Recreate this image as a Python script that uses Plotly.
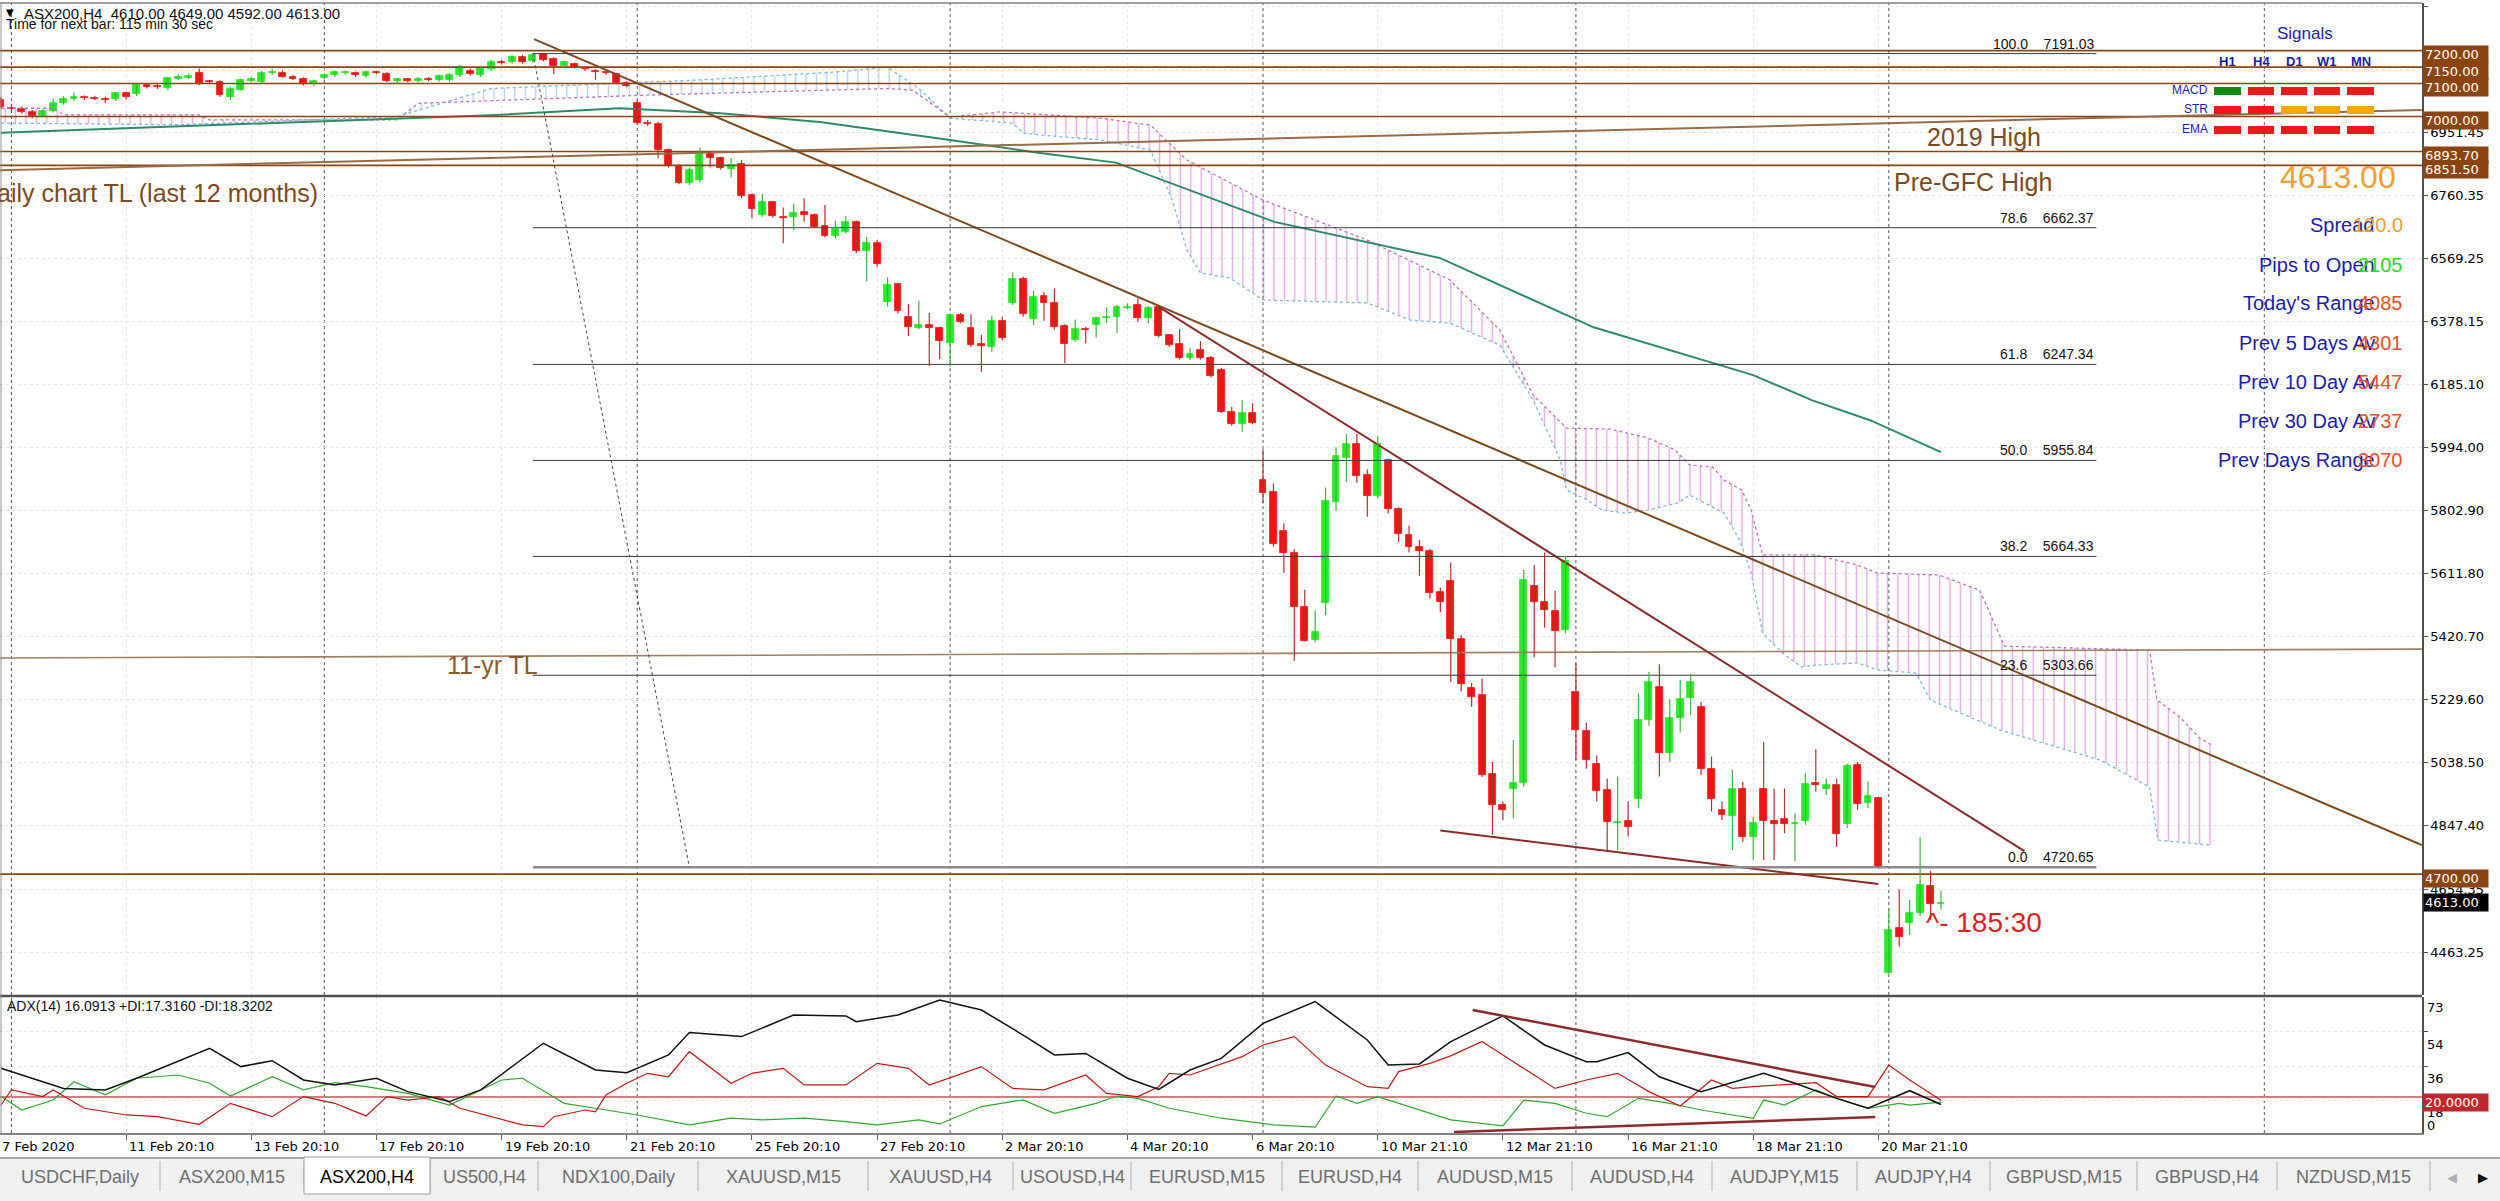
import numpy as np
import plotly.graph_objects as go

# ----------------------------- DATA -----------------------------
OPEN = [7050,7025,7023,7015,7001,7018,7040,7053,7058,7057,
        7054,7052,7070,7068,7095,7092,7086,7115,7117,7131,
        7105,7105,7060,7082,7109,7105,7131,7133,7121,7115,
        7098,7118,7126,7131,7132,7122,7134,7130,7109,7113,
        7109,7115,7111,7111,7126,7139,7126,7143,7167,7166,
        7182,7168,7189,7176,7154,7158,7148,7139,7136,7129,
        7103,7042,6979,6976,6898,6850,6797,6807,6885,6873,
        6842,6856,6762,6701,6739,6694,6694,6709,6701,6668,
        6638,6650,6679,6593,6615,6438,6490,6392,6359,6367,
        6357,6311,6397,6359,6308,6301,6378,6433,6508,6385,
        6454,6435,6364,6321,6354,6367,6388,6392,6419,6427,
        6387,6423,6336,6308,6266,6291,6268,6230,6104,6066,
        6101,5896,5859,5742,5674,5512,5411,5524,5831,5962,
        6005,5911,5848,5957,5807,5729,5694,5682,5555,5591,
        5414,5264,5244,5004,4910,4957,4977,5575,5527,5500,
        5441,5254,5134,5034,4955,4854,4861,4928,5168,5269,
        5067,5173,5236,5208,5018,4895,4877,4957,4812,4958,
        4860,4867,4852,4861,4976,4957,4971,4852,5031,4915,
        4930,4401,4535,4551,4583,4665,4610]
HIGH = [7060,7032,7030,7020,7022,7055,7062,7073,7064,7063,
        7060,7074,7076,7100,7102,7098,7120,7128,7130,7146,
        7110,7110,7090,7115,7120,7138,7145,7140,7126,7119,
        7112,7130,7140,7140,7137,7140,7139,7134,7118,7117,
        7119,7120,7127,7131,7156,7146,7150,7172,7173,7186,
        7187,7191.03,7190,7180,7168,7163,7152,7143,7140,7133,
        7107,7050,6989,6984,6903,6856,6845,6906,6890,6878,
        6873,6868,6766,6765,6744,6724,6734,6752,6706,6731,
        6684,6699,6684,6635,6625,6512,6495,6431,6441,6404,
        6362,6402,6404,6400,6337,6395,6392,6527,6514,6471,
        6467,6478,6369,6384,6362,6392,6421,6428,6433,6448,
        6425,6428,6340,6354,6298,6318,6273,6237,6119,6139,
        6129,5990,5886,5765,5686,5563,5500,5874,5996,6036,
        6036,5928,6030,5962,5814,5758,5714,5687,5570,5646,
        5426,5280,5294,5041,4920,5107,5623,5638,5676,5560,
        5666,5340,5160,5060,4990,4996,4920,5249,5314,5337,
        5230,5289,5309,5223,5057,4920,5016,4980,4874,5100,
        4960,4960,4884,5006,5079,4990,4990,5036,5040,4981,
        4935,4593,4654,4621,4812,4710,4649]
LOW = [7025,7018,7008,6995,6996,7012,7036,7048,7050,7049,
       7040,7048,7052,7062,7085,7084,7080,7110,7113,7095,
       7098,7060,7050,7078,7104,7100,7127,7118,7110,7094,
       7092,7112,7120,7126,7120,7118,7128,7104,7100,7104,
       7103,7108,7106,7106,7120,7124,7120,7138,7158,7160,
       7160,7163,7168,7129,7148,7146,7138,7111,7127,7098,
       7088,6975,6971,6873,6845,6794,6792,6800,6846,6838,
       6815,6752,6691,6696,6693,6615,6655,6681,6661,6633,
       6630,6645,6585,6499,6544,6423,6402,6334,6354,6243,
       6263,6241,6372,6300,6225,6284,6320,6428,6392,6367,
       6380,6353,6251,6316,6311,6329,6374,6342,6414,6377,
       6372,6330,6300,6262,6261,6262,6208,6100,6061,6043,
       6066,5825,5694,5615,5348,5406,5403,5486,5803,5891,
       5888,5785,5840,5795,5708,5676,5605,5537,5496,5284,
       5254,5208,4995,4819,4864,4869,4965,5358,5448,5327,
       5431,5046,5020,4920,4773,4773,4814,4900,5150,4996,
       5040,5130,5183,5001,4890,4864,4773,4798,4743,4743,
       4743,4824,4738,4850,4950,4940,4783,4840,4895,4900,
       4720.65,4398,4480,4515,4573,4561,4592]
CLOSE = [7030,7022,7013,7001,7018,7040,7052,7060,7055,7054,
         7051,7070,7058,7095,7089,7089,7116,7121,7123,7101,
         7104,7065,7085,7111,7115,7133,7136,7121,7115,7098,
         7108,7126,7135,7136,7125,7136,7132,7109,7114,7109,
         7115,7111,7123,7127,7151,7129,7146,7167,7163,7180,
         7166,7188,7173,7153,7164,7151,7143,7135,7132,7103,
         7093,6979,6978,6898,6850,6797,6838,6886,6875,6843,
         6853,6760,6719,6739,6698,6693,6706,6701,6666,6638,
         6657,6679,6592,6617,6551,6488,6411,6360,6367,6357,
         6319,6396,6377,6305,6303,6378,6328,6506,6399,6451,
         6435,6362,6309,6354,6353,6387,6392,6421,6423,6389,
         6418,6334,6305,6266,6279,6266,6212,6104,6066,6101,
         6070,5858,5702,5676,5512,5409,5434,5834,5969,6005,
         5910,5848,6006,5808,5731,5694,5682,5554,5525,5414,
         5277,5239,5001,4910,4895,4977,5593,5527,5502,5439,
         5651,5137,5046,4953,4859,4857,4844,5168,5284,5067,
         5173,5233,5284,5018,4927,4879,4957,4812,4856,4862,
         4852,4852,4856,4974,4971,4971,4822,5028,4913,4937,
         4722,4530,4510,4583,4667,4608,4613]

PRICE_TICKS = [7333.65, 7142.55, 6951.45, 6760.35, 6569.25, 6378.15, 6185.10, 5994.00,
               5802.90, 5611.80, 5420.70, 5229.60, 5038.50, 4847.40, 4654.35, 4463.25]
X_TICK_BARS = [12, 24, 36, 48, 60, 72, 84, 96, 108, 120, 132, 144, 156, 168, 180]
X_TICK_LABELS = ["11 Feb 20:10", "13 Feb 20:10", "17 Feb 20:10", "19 Feb 20:10", "21 Feb 20:10",
                 "25 Feb 20:10", "27 Feb 20:10", "2 Mar 20:10", "4 Mar 20:10", "6 Mar 20:10",
                 "10 Mar 21:10", "12 Mar 21:10", "16 Mar 21:10", "18 Mar 21:10", "20 Mar 21:10"]
FIRST_DATE_LABEL = "7 Feb 2020"
WEEK_SEPARATORS = [1, 31, 61, 91, 121, 151, 181, 217]

H_LEVELS = [7200.00, 7150.00, 7100.00, 7000.00, 6893.70, 6851.50, 4700.00]
FIB_RATIOS = [100.0, 78.6, 61.8, 50.0, 38.2, 23.6, 0.0]
FIB_LEVELS = [7191.03, 6662.37, 6247.34, 5955.84, 5664.33, 5303.66, 4720.65]
FIB_BARS = [51, 200.9]
FIB_DIAG_BARS = [51, 66]

SPAN_A_X = [0, 17, 38, 47, 67, 80, 85, 88, 91, 97, 98, 99.6, 105.4, 110.2, 112.3, 113.7, 115,
            117.8, 121, 131, 135.1, 138.9, 143.7, 146.9, 149.5, 150.1, 152.1, 153.5, 155.7,
            157.9, 160.8, 161.9, 164.1, 165.2, 166.7, 167.8, 168.9, 170.8, 172.6, 174.4, 178.0,
            179.9, 183.6, 185.0, 191.7, 201.3, 206.0, 206.8, 212.0]
SPAN_A_Y = [6980, 6975, 7000, 7085, 7111, 7135, 7150, 7085, 6995, 6980, 6950, 6944, 6929, 6898,
            6746, 6595, 6525, 6510, 6443, 6434, 6382, 6373, 6306, 6139, 5957, 5866, 5836, 5805,
            5796, 5805, 5827, 5851, 5814, 5796, 5714, 5614, 5432, 5371, 5329, 5335, 5341, 5320,
            5310, 5228, 5137, 5046, 4964, 4803, 4788]
SPAN_B_X = [0, 5, 6, 19, 20, 38, 40, 55, 62, 85, 87.4, 91, 95.8, 105.4, 110.2, 113.7, 121.0,
            131.0, 138.9, 143.7, 146.9, 150.1, 154.3, 157.9, 160.5, 161.9, 164.1, 165.2, 166.9,
            167.8, 168.9, 174.0, 178.0, 179.9, 185.8, 189.7, 192.1, 206.0, 206.7, 208.9, 210.8, 212.0]
SPAN_B_Y = [7025, 7025, 7005, 7005, 6990, 6990, 7040, 7057, 7065, 7085, 7080, 6998, 7014, 6995,
            6974, 6868, 6746, 6625, 6504, 6352, 6154, 6054, 6051, 6024, 5988, 5942, 5936, 5896,
            5866, 5805, 5669, 5669, 5638, 5614, 5608, 5562, 5392, 5380, 5229, 5177, 5113, 5092]
CLOUD_SPLITS = [0, 30, 89, 212]

MA_X = [0, 47, 59.3, 69, 78.5, 91, 99.6, 106.9, 122.1, 138, 152.7, 168, 173.6, 179.2, 186]
MA_Y = [6951, 7004, 7025, 7010, 6983, 6929, 6889, 6860, 6680, 6570, 6360, 6215, 6139, 6078, 5981]

TL_MAJOR = ([51.1, 232.1], [7235, 4788])
TL_MINOR = ([111.0, 194.0], [6422, 4770])
TL_SUPPORT = ([138.0, 180.0], [4832, 4670])
TL_DAILY = ([-0.1, 232.1], [6837, 7020])
TL_11YR = ([-0.1, 232.1], [5356, 5383])

ADX_X = [0,6,10,13,20,23,26,29,32,36,39,43,46,52,57,60,64,66,71,76,81,82,86,90,94,98,101,104,
         108,111,114,117,121,126,131,133,136,139,144,148,152,153,156,159,163,169,172,176,179,183,186]
ADX_Y = [35.0,24.5,23.7,29.8,45.5,35.9,39.0,28.9,26.3,29.8,22.8,17.6,23.7,48.1,34.1,32.7,42.0,
         53.7,51.6,62.9,62.4,59.4,62.9,70.7,65.5,52.4,42.0,42.8,29.8,24.0,34.1,40.2,58.5,69.9,
         49.8,36.7,37.3,49.0,62.4,47.2,38.5,38.5,43.2,30.6,22.8,32.4,27.2,19.3,14.1,23.3,16.09]
MDI_X = [0,1,4,5,8,12,15,19,22,26,29,32,35,37,39,42,44,50,52,53,56,57,58,60,62,64,66,70,72,75,
         77,81,84,87,89,94,97,100,104,106,109,111,112,114,119,121,124,127,131,133,134,137,139,
         142,145,149,152,155,158,161,164,166,168,171,174,176,179,181,183,186]
MDI_Y = [15.8,23.7,20.2,23.7,14.1,10.6,9.7,5.7,16.7,9.7,20.2,16.7,10.1,20.2,18.4,20.2,14.1,5.4,
         4.5,9.7,13.2,12.3,21.1,27.2,32.4,30.6,43.7,27.2,32.4,35.0,26.3,26.3,37.6,35.0,26.3,35.9,
         24.5,23.7,31.5,21.9,20.2,25.4,32.4,31.5,41.1,47.2,51.6,36.7,25.4,24.5,33.3,37.6,41.5,
         49.0,38.5,24.5,28.9,32.4,22.8,15.3,28.9,24.5,25.4,26.3,27.5,20.2,20.2,36.7,28.9,18.32]
PDI_X = [0,2,5,7,10,13,17,20,22,26,29,32,35,39,43,45,48,50,54,57,61,66,70,73,77,81,84,88,90,94,
         98,101,105,107,109,112,117,122,126,128,130,132,136,139,144,146,149,152,154,157,160,163,
         168,169,171,174,176,179,182,183,186]
PDI_Y = [20.2,13.2,18.4,28.0,21.1,29.8,31.5,27.2,20.5,30.6,23.7,27.5,25.4,21.9,15.8,21.1,28.9,
         29.8,16.7,14.1,10.6,5.4,8.9,8.0,8.9,7.1,5.4,8.0,5.9,15.0,18.5,11.5,16.7,20.5,19.3,14.1,
         8.9,5.4,4.2,20.5,16.7,20.2,13.2,8.0,4.9,18.4,16.7,11.5,9.7,19.3,16.7,13.2,8.9,18.4,15.8,
         23.7,19.3,14.1,16.7,15.8,17.32]
ADX_LEVEL = 20.0
ADX_TL_DOWN = ([141.1, 179.7], [65.5, 25.2])
ADX_TL_UP = ([139.3, 179.7], [1.7, 9.5])

SIGNAL_COLS = ["H1", "H4", "D1", "W1", "MN"]
SIGNAL_ROWS = ["MACD", "STR", "EMA"]
SIGNAL_STATE = {"MACD": ["up", "dn", "dn", "dn", "dn"],
                "STR": ["dn", "dn", "flat", "flat", "flat"],
                "EMA": ["dn", "dn", "dn", "dn", "dn"]}
INFO_LABELS = ["Spread", "Pips to Open", "Today's Range", "Prev 5 Days Av",
               "Prev 10 Day Av", "Prev 30 Day Av", "Prev Days Range"]
INFO_VALUES = ["120.0", "2105", "4085", "4301", "5447", "2737", "3070"]
LAST_PRICE = 4613.00
BAR_COUNTDOWN = "185:30"
HEADER = "ASX200,H4  4610.00 4649.00 4592.00 4613.00"
NEXT_BAR = "Time for next bar: 115 min 30 sec"
ADX_HEADER = "ADX(14) 16.0913 +DI:17.3160 -DI:18.3202"
TABS = ["USDCHF,Daily", "ASX200,M15", "ASX200,H4", "US500,H4", "NDX100,Daily", "XAUUSD,M15",
        "XAUUSD,H4", "USOUSD,H4", "EURUSD,M15", "EURUSD,H4", "AUDUSD,M15", "AUDUSD,H4",
        "AUDJPY,M15", "AUDJPY,H4", "GBPUSD,M15", "GBPUSD,H4", "NZDUSD,M15"]
ACTIVE_TAB = "ASX200,H4"

# ----------------------------- LAYOUT GEOMETRY -----------------------------
FIG_W, FIG_H = 2500, 1201
PLOT_R = 2422
M_TOP, M_BOT = 3, 68
PH = FIG_H - M_TOP - M_BOT
TAB_EDGES = [0, 160, 304, 430, 538, 698, 868, 1013, 1131, 1282, 1418, 1572, 1712, 1857, 1990,
             2137, 2277, 2430]


def px(x):
    return x / PLOT_R


def py(y):
    return (FIG_H - M_BOT - y) / PH


X_RANGE = [-0.096, 232.12]
Y_RANGE = [4332.9, 7344.6]
Y2_RANGE = [1.17, 72.3]

BROWN = "#8B4513"
TXT_BROWN = "#7B4A22"
BLUE = "#1C1CA8"
SANS = "Liberation Sans"
DV = "DejaVu Sans"

fig = go.Figure()

# ---- Ichimoku cloud ----
ax_ = np.array(SPAN_A_X, float)
ay_ = np.array(SPAN_A_Y, float)
bx_ = np.array(SPAN_B_X, float)
by_ = np.array(SPAN_B_Y, float)
hatch_cols = ["rgba(195,85,195,1)", "rgba(110,165,215,1)", "rgba(195,85,195,1)"]
for k in range(len(CLOUD_SPLITS) - 1):
    a, b = CLOUD_SPLITS[k], CLOUD_SPLITS[k + 1]
    xs = np.unique(np.concatenate([[a, b], ax_[(ax_ > a) & (ax_ < b)], bx_[(bx_ > a) & (bx_ < b)]]))
    ya = np.interp(xs, ax_, ay_)
    yb = np.interp(xs, bx_, by_)
    fig.add_trace(go.Scatter(
        x=list(xs) + list(xs[::-1]), y=list(yb) + list(ya[::-1]), mode="lines",
        line=dict(width=0), fill="toself", fillcolor="rgba(0,0,0,0)",
        fillpattern=dict(shape="|", fgcolor=hatch_cols[k], bgcolor="rgba(0,0,0,0)",
                         size=10.4, solidity=0.14, fillmode="overlay"),
        hoverinfo="skip", showlegend=False))
fig.add_trace(go.Scatter(x=SPAN_A_X, y=SPAN_A_Y, mode="lines",
                         line=dict(color="#7FB8D8", width=1.3, dash="dot"), hoverinfo="skip", showlegend=False))
fig.add_trace(go.Scatter(x=SPAN_B_X, y=SPAN_B_Y, mode="lines",
                         line=dict(color="#C070C0", width=1.3, dash="dot"), hoverinfo="skip", showlegend=False))

# ---- moving average ----
fig.add_trace(go.Scatter(x=MA_X, y=MA_Y, mode="lines", line=dict(color="#2F8A6A", width=2),
                         hoverinfo="skip", showlegend=False))

# ---- horizontal levels ----
hx, hy = [], []
for lv in H_LEVELS:
    hx += [X_RANGE[0], X_RANGE[1], None]
    hy += [lv, lv, None]
fig.add_trace(go.Scatter(x=hx, y=hy, mode="lines", line=dict(color=BROWN, width=1.6),
                         hoverinfo="skip", showlegend=False))

# ---- trendlines ----
fig.add_trace(go.Scatter(x=TL_DAILY[0], y=TL_DAILY[1], mode="lines", line=dict(color="#9A6B45", width=2),
                         hoverinfo="skip", showlegend=False))
fig.add_trace(go.Scatter(x=TL_11YR[0], y=TL_11YR[1], mode="lines", line=dict(color="#A08060", width=1.6),
                         hoverinfo="skip", showlegend=False))
fig.add_trace(go.Scatter(x=TL_MAJOR[0], y=TL_MAJOR[1], mode="lines", line=dict(color="#7B4A1E", width=2),
                         hoverinfo="skip", showlegend=False))
fig.add_trace(go.Scatter(x=TL_MINOR[0], y=TL_MINOR[1], mode="lines", line=dict(color="#8B2A2A", width=2),
                         hoverinfo="skip", showlegend=False))
fig.add_trace(go.Scatter(x=TL_SUPPORT[0], y=TL_SUPPORT[1], mode="lines", line=dict(color="#8B2A2A", width=2),
                         hoverinfo="skip", showlegend=False))

# ---- Fibonacci ----
fx, fy = [], []
for lv in FIB_LEVELS[:-1]:
    fx += [FIB_BARS[0], FIB_BARS[1], None]
    fy += [lv, lv, None]
fig.add_trace(go.Scatter(x=fx, y=fy, mode="lines", line=dict(color="#3A3A3A", width=1),
                         hoverinfo="skip", showlegend=False))
fig.add_trace(go.Scatter(x=FIB_BARS, y=[FIB_LEVELS[-1]] * 2, mode="lines",
                         line=dict(color="#8C8C8C", width=2.5), hoverinfo="skip", showlegend=False))
fig.add_trace(go.Scatter(x=FIB_DIAG_BARS, y=[FIB_LEVELS[0], FIB_LEVELS[-1]], mode="lines",
                         line=dict(color="#444444", width=1, dash="dot"), hoverinfo="skip", showlegend=False))

# ---- candles ----
o = np.array(OPEN, float); h = np.array(HIGH, float); l = np.array(LOW, float); c = np.array(CLOSE, float)
idx = np.arange(len(o))
up = c >= o
for mask, col in [(up, "#3CB43C"), (~up, "#B03030")]:
    wx, wy = [], []
    for i in idx[mask]:
        wx += [i, i, None]
        wy += [l[i], h[i], None]
    fig.add_trace(go.Scatter(x=wx, y=wy, mode="lines", line=dict(color=col, width=1.2),
                             hoverinfo="skip", showlegend=False))
body_lo = np.minimum(o, c)
body_h = np.maximum(np.abs(c - o), 2.5)
body_col = np.where(up, "#22EE22", "#FF1010")
fig.add_trace(go.Bar(x=idx, y=body_h, base=body_lo, width=0.66,
                     marker=dict(color=list(body_col), line=dict(color=list(body_col), width=0.8)),
                     hoverinfo="skip", showlegend=False))

# ---- ADX panel ----
fig.add_trace(go.Scatter(x=[X_RANGE[0], X_RANGE[1]], y=[ADX_LEVEL, ADX_LEVEL], xaxis="x", yaxis="y2",
                         mode="lines", line=dict(color="#D08080", width=2), hoverinfo="skip", showlegend=False))
fig.add_trace(go.Scatter(x=PDI_X, y=PDI_Y, xaxis="x", yaxis="y2", mode="lines",
                         line=dict(color="#2EAA2E", width=1.2), hoverinfo="skip", showlegend=False))
fig.add_trace(go.Scatter(x=MDI_X, y=MDI_Y, xaxis="x", yaxis="y2", mode="lines",
                         line=dict(color="#C01818", width=1.2), hoverinfo="skip", showlegend=False))
fig.add_trace(go.Scatter(x=ADX_X, y=ADX_Y, xaxis="x", yaxis="y2", mode="lines",
                         line=dict(color="#111111", width=1.5), hoverinfo="skip", showlegend=False))
for tl in (ADX_TL_DOWN, ADX_TL_UP):
    fig.add_trace(go.Scatter(x=tl[0], y=tl[1], xaxis="x", yaxis="y2", mode="lines",
                             line=dict(color="#8B2A2A", width=2.5), hoverinfo="skip", showlegend=False))

# ----------------------------- SHAPES -----------------------------
shapes = []
for s in WEEK_SEPARATORS:
    shapes.append(dict(type="line", xref="x", yref="paper", x0=s, x1=s, y0=0, y1=1,
                       line=dict(color="#555555", width=1, dash="dot"), layer="below"))
shapes.append(dict(type="line", xref="paper", yref="paper", x0=0, x1=1, y0=py(996), y1=py(996),
                   line=dict(color="#505050", width=2.5)))
shapes.append(dict(type="line", xref="paper", yref="paper", x0=0, x1=1, y0=py(3), y1=py(3),
                   line=dict(color="#808080", width=1.5)))
shapes.append(dict(type="line", xref="paper", yref="paper", x0=px(1), x1=px(1), y0=0, y1=1,
                   line=dict(color="#909090", width=1)))
shapes.append(dict(type="rect", xref="paper", yref="paper", x0=0, x1=px(FIG_W), y0=py(FIG_H), y1=py(1158),
                   fillcolor="#F0F0F0", line=dict(width=0)))
shapes.append(dict(type="line", xref="paper", yref="paper", x0=0, x1=px(FIG_W), y0=py(1158), y1=py(1158),
                   line=dict(color="#A8A8A8", width=2)))
for e in TAB_EDGES[1:]:
    shapes.append(dict(type="line", xref="paper", yref="paper", x0=px(e), x1=px(e), y0=py(1191), y1=py(1161),
                       line=dict(color="#C4C4C4", width=1.5)))
a_i = TABS.index(ACTIVE_TAB)
shapes.append(dict(type="rect", xref="paper", yref="paper", x0=px(TAB_EDGES[a_i]), x1=px(TAB_EDGES[a_i + 1]),
                   y0=py(1194), y1=py(1157), fillcolor="white", line=dict(color="#A0A0A0", width=1)))
sig_col = {"up": "#118811", "dn": "#F01818", "flat": "#FFA500"}
col_x = [(2214, 2241), (2248, 2274), (2281, 2307), (2314, 2340), (2347, 2374)]
row_y = {"MACD": (87, 95), "STR": (106, 114), "EMA": (126, 134)}
for r in SIGNAL_ROWS:
    for j, st in enumerate(SIGNAL_STATE[r]):
        shapes.append(dict(type="rect", xref="paper", yref="paper", x0=px(col_x[j][0]), x1=px(col_x[j][1]),
                           y0=py(row_y[r][1]), y1=py(row_y[r][0]), fillcolor=sig_col[st], line=dict(width=0)))

# ----------------------------- ANNOTATIONS -----------------------------
ann = []


def T(text, x, y, size, color="#000000", family=SANS, xa="left", ya="middle", xref="paper", yref="paper", **kw):
    d = dict(text=text, x=x, y=y, xref=xref, yref=yref, xanchor=xa, yanchor=ya, showarrow=False,
             font=dict(family=family, size=size, color=color))
    d.update(kw)
    ann.append(d)


T("\u25BC", px(4), py(12), 10, family=DV)
T(HEADER, px(22), py(13), 15, "#111111")
T(NEXT_BAR, px(4), py(24), 14, "#111111")
T("Daily chart TL (last 12 months)", px(320), py(193), 25, TXT_BROWN, xa="right")
T("2019 High", px(1925), py(137), 25, TXT_BROWN)
T("Pre-GFC High", px(1892), py(182), 25, TXT_BROWN)
T("11-yr TL", px(540), py(665), 25, "#8B5A2B", xa="right")
T("^- " + BAR_COUNTDOWN, px(1924), py(922), 28, "#DD1F1F")
for r, lv in zip(FIB_RATIOS, FIB_LEVELS):
    T(f"{r:.1f}    {lv:.2f}", px(2096), lv, 14, "#111111", xa="right", ya="bottom", yref="y")

T("Signals", px(2305), py(33), 17, BLUE, xa="center")
for j, cn in enumerate(SIGNAL_COLS):
    T(f"<b>{cn}</b>", px((col_x[j][0] + col_x[j][1]) / 2), py(62), 13, BLUE, xa="center")
for r in SIGNAL_ROWS:
    T(r, px(2210), py((row_y[r][0] + row_y[r][1]) / 2 - 1), 12, BLUE, xa="right")
T(f"{LAST_PRICE:.2f}", px(2338), py(177), 32, "#F0A030", xa="center")
info_y = [225, 265, 303, 343, 382, 421, 460]
val_cols = ["#F0A030", "#22DD22", "#E8502A", "#E8502A", "#E8502A", "#E8502A", "#E8502A"]
for lab, val, yy, vc in zip(INFO_LABELS, INFO_VALUES, info_y, val_cols):
    T(lab, px(2377), py(yy), 20, BLUE, xa="right")
    T(val, px(2405), py(yy), 20, vc, xa="right")

for lv in H_LEVELS:
    T(f"{lv:.2f}", px(2423), lv, 13, "white", family=DV, yref="y", bgcolor=BROWN, borderpad=1,
      width=62, align="left", yshift=-4)
T(f"{LAST_PRICE:.2f}", px(2423), LAST_PRICE, 13, "white", family=DV, yref="y", bgcolor="#000000",
  borderpad=1, width=62, align="left")

T(ADX_HEADER, px(5), py(1006), 14, "#111111")
for lab, yy in [("73", 1008), ("54", 1044), ("36", 1078), ("18", 1112), ("0", 1125)]:
    T(lab, px(2425), py(yy), 13, "#000000", family=DV)
T(f"{ADX_LEVEL:.4f}", px(2423), py(1102), 13, "white", family=DV, bgcolor="#C0282D", borderpad=1,
  width=62, align="left")

T(FIRST_DATE_LABEL, px(0), py(1146), 13, "#000000", family=DV)
for b, lab in zip(X_TICK_BARS, X_TICK_LABELS):
    T(lab, b, py(1146), 13, "#000000", family=DV, xref="x", xshift=1)

for k, name in enumerate(TABS):
    T(name, px((TAB_EDGES[k] + TAB_EDGES[k + 1]) / 2), py(1177), 18,
      "#000000" if name == ACTIVE_TAB else "#6E6E6E", xa="center")
T("\u25C0", px(2452), py(1177), 13, "#B0B0B0", family=DV, xa="center")
T("\u25B6", px(2483), py(1177), 13, "#000000", family=DV, xa="center")

fig.update_layout(
    width=FIG_W, height=FIG_H, autosize=False,
    margin=dict(l=0, r=FIG_W - PLOT_R, t=M_TOP, b=M_BOT, pad=0),
    paper_bgcolor="white", plot_bgcolor="white",
    font=dict(family=DV, size=13, color="#000000"),
    showlegend=False, barmode="overlay", bargap=0,
    xaxis=dict(domain=[0, 1], range=X_RANGE, anchor="y2", tickvals=X_TICK_BARS, showticklabels=False,
               ticks="outside", ticklen=5, tickcolor="#606060", showgrid=True, gridcolor="#E6E6E6",
               griddash="dot", showline=True, linecolor="#808080", linewidth=2, zeroline=False,
               fixedrange=True),
    yaxis=dict(domain=[py(995), 1.0], range=Y_RANGE, side="right", anchor="x", tickvals=PRICE_TICKS,
               ticktext=[f"{v:.2f}" for v in PRICE_TICKS], tickfont=dict(family=DV, size=13, color="#000"),
               ticks="outside", ticklen=4, tickcolor="#505050", showgrid=True, gridcolor="#E6E6E6",
               griddash="dot", showline=True, linecolor="#505050", linewidth=1.5, zeroline=False),
    yaxis2=dict(domain=[0, py(997)], range=Y2_RANGE, side="right", anchor="x", tickvals=[18, 36, 54],
                showticklabels=False, ticks="outside", ticklen=4, tickcolor="#505050", showgrid=True,
                gridcolor="#E6E6E6", griddash="dot", showline=True, linecolor="#505050", linewidth=1.5,
                zeroline=False),
    shapes=shapes, annotations=ann,
)

fig.write_html("out.html", config={"displayModeBar": False},
               post_script="document.body.style.margin='0';document.body.style.overflow='hidden';")
